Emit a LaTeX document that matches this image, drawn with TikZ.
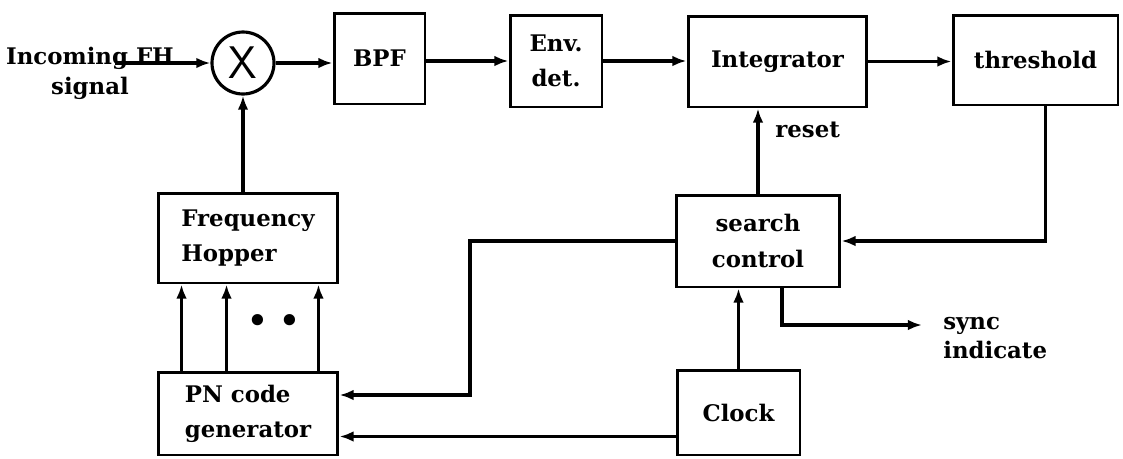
\documentclass[tikz,border=0pt]{standalone}
\usepackage{fontspec}
\setmainfont{DejaVu Serif}
\usetikzlibrary{arrows.meta}

\tikzset{
  blk/.style={draw,line width=1.7pt,inner sep=2pt,align=center,
    font=\bfseries\fontsize{13}{20}\selectfont},
  lbl/.style={inner sep=1pt,font=\bfseries\fontsize{13}{17}\selectfont},
}

\begin{document}
\begin{tikzpicture}[x=0.02cm,y=-0.02cm,line width=1.8pt,
    >={Latex[length=8pt,width=6pt]}]
  \useasboundingbox (0,0) rectangle (1123,458);
  % top row
  \node (inp) [lbl,align=center] at (90,73) {Incoming FH\\signal};
  \coordinate (src) at (115,63);
  \node (mix) [draw,circle,minimum size=1.24cm,inner sep=0pt,
    font=\sffamily\fontsize{26}{26}\selectfont] at (243,63) {X};
  \node (bpf) [blk,minimum width=1.82cm,minimum height=1.82cm] at (379.5,58.5) {BPF};
  \node (env) [blk,minimum width=1.84cm,minimum height=1.84cm] at (556,61) {Env.\\det.};
  \node (integ) [blk,minimum width=3.58cm,minimum height=1.82cm] at (777.5,61.5) {Integrator};
  \node (thr) [blk,minimum width=3.3cm,minimum height=1.8cm] at (1035.5,60) {threshold};
  % lower part
  \node (fh) [blk,align=left,minimum width=3.6cm,minimum height=1.8cm] at (248,238) {Frequency\\Hopper};
  \node (pn) [blk,align=left,minimum width=3.6cm,minimum height=1.66cm] at (248,413.5) {PN code\\generator};
  \node (srch) [blk,minimum width=3.28cm,minimum height=1.84cm] at (758,241) {search\\control};
  \node (clk) [blk,minimum width=2.46cm,minimum height=1.7cm] at (738.5,412.5) {Clock};
  \node (dots) [font=\fontsize{22}{22}\selectfont] at (274,325) {\textbullet\hspace{5pt}\textbullet};
  \node (synctxt) [lbl,align=left,anchor=west] at (940,338) {sync\\indicate};

  \draw[->] (src) -- (mix.west);
  \draw[->] (mix.east) -- (mix.east -| bpf.west);
  \draw[->] (bpf.east |- env.west) -- (env.west);
  \draw[->] (env.east) -- (env.east -| integ.west);
  \draw[->] (integ.east) -- (integ.east -| thr.west);
  \draw[->] (fh.north -| mix) -- (mix.south);
  \foreach \dx in {0.5,1.4,3.24}
    \draw[->] ([xshift=\dx cm]pn.north west) -- ([xshift=\dx cm]fh.south west);
  \draw[->] (srch.north) -- (srch.north |- integ.south)
    node[lbl,pos=0.75,right=8pt] {reset};
  \coordinate (throut) at ([xshift=0.2cm]thr.south);
  \draw[->] (throut) |- (srch.east);
  \coordinate (bend) at (470,395);
  \draw[->] (srch.west) -| (bend) -- (bend -| pn.east);
  \coordinate (clkout) at ([yshift=-0.48cm]clk.west);
  \draw[->] (clkout) -- (clkout -| pn.east);
  \draw[->] (clk.north) -- (clk.north |- srch.south);
  \coordinate (syncout) at ([xshift=0.48cm]srch.south);
  \coordinate (synctip) at (922,325);
  \draw[->] (syncout) |- (synctip);
\end{tikzpicture}
\end{document}
